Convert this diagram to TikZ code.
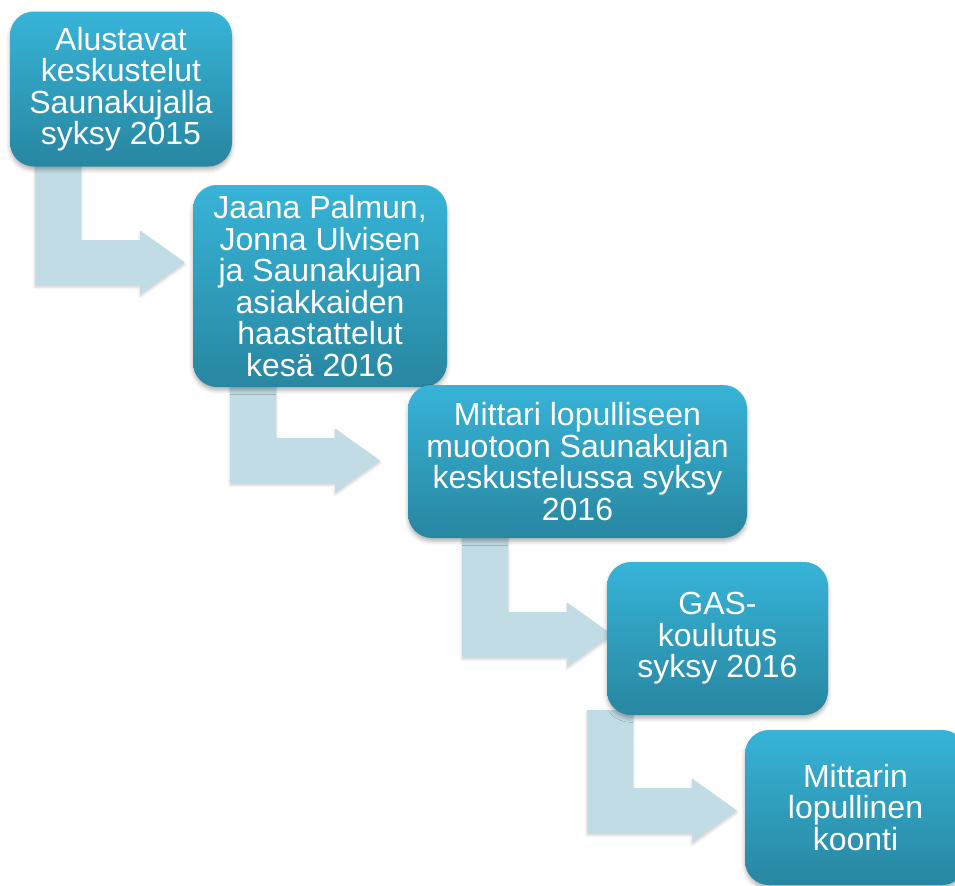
\documentclass[tikz,border=0pt]{standalone}
\usepackage{fontspec}
\setmainfont{Liberation Sans}
\usetikzlibrary{shadows.blur}
\definecolor{boxtop}{HTML}{37B4D8}
\definecolor{boxbot}{HTML}{2886A0}
\definecolor{bendfill}{HTML}{C2DCE5}

\begin{document}
\begin{tikzpicture}[x=0.75pt, y=-0.75pt,
    stage/.style={rectangle, rounded corners=18pt, top color=boxtop, bottom color=boxbot,
        text=white, align=center, inner sep=0pt, font=\fontsize{24}{23.6}\selectfont,
        blur shadow={shadow xshift=0pt, shadow yshift=-2.5pt, shadow blur radius=3pt, shadow opacity=30}},
    bendarrow/.style={fill=bendfill,
        blur shadow={shadow xshift=0pt, shadow yshift=-1.5pt, shadow blur radius=2pt, shadow opacity=20}}]
        \useasboundingbox (0,0) rectangle (955,885);
        % bent arrows behind the boxes
        \foreach \sx/\st/\by in {35/80/285, 230/290/483, 462/460/657, 587/710/833}
            \fill[bendarrow] (\sx,\st) -- (\sx+46,\st) -- (\sx+46,\by-45) -- (\sx+105,\by-45) -- (\sx+105,\by-54.5)
                -- (\sx+150,\by-22.5) -- (\sx+105,\by+9.5) -- (\sx+105,\by) -- (\sx,\by) -- cycle;
        % steps
        \node[stage, minimum width=166.5pt, minimum height=116.25pt] (alku) at (121,89)
            {Alustavat\\keskustelut\\Saunakujalla\\syksy 2015};
        \node[stage, minimum width=190.5pt, minimum height=151.5pt] (haast) at (320,286)
            {Jaana Palmun,\\Jonna Ulvisen\\ja Saunakujan\\asiakkaiden\\haastattelut\\kesä 2016};
        \node[stage, minimum width=254.25pt, minimum height=114.75pt] (muoto) at (577.5,461.5)
            {Mittari lopulliseen\\muotoon Saunakujan\\keskustelussa syksy\\2016};
        \node[stage, minimum width=165.75pt, minimum height=114.75pt] (gas) at (717.5,638.5)
            {GAS-\\koulutus\\syksy 2016};
        \node[stage, minimum width=165.75pt, minimum height=116.25pt] (koonti) at (855.5,807.5)
            {Mittarin\\lopullinen\\koonti};
\end{tikzpicture}
\end{document}
